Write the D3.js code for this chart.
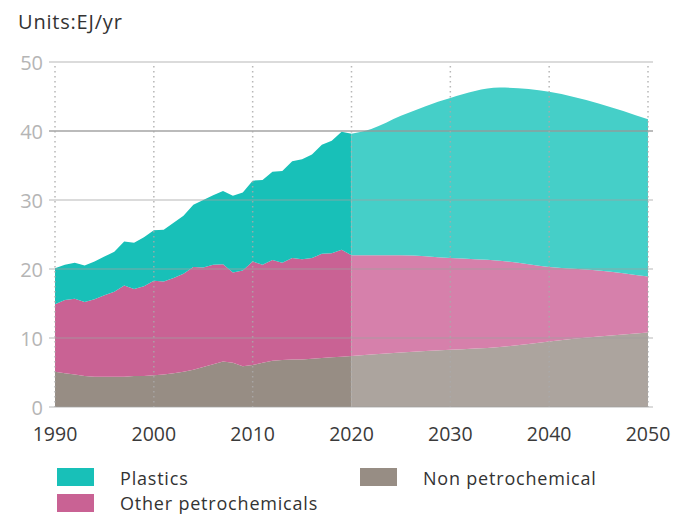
<!DOCTYPE html>
<html><head><meta charset="utf-8">
<script src="https://cdn.jsdelivr.net/npm/d3@7"></script>
<style>
body{margin:0;background:#fff;}
text{font-family:"Open Sans","Noto Sans",sans-serif;}
</style></head>
<body><svg id="c" width="675" height="514"></svg>
<script>
// Historical data (EJ/yr)
const histYears = d3.range(1990, 2021);
const histPlastics = [5.2,5.1,5.2,5.3,5.5,5.6,5.8,6.4,6.7,7.1,7.3,7.5,8.0,8.4,9.0,9.8,10.1,10.6,11.1,11.3,11.7,12.3,12.8,13.3,14.0,14.5,15.0,15.8,16.3,17.1,17.6];
const histOther    = [9.8,10.6,11.0,10.7,11.2,11.8,12.3,13.2,12.6,13.0,13.7,13.5,13.8,14.2,14.9,14.4,14.4,14.1,13.1,13.9,15.0,14.2,14.6,14.1,14.7,14.5,14.6,15.1,15.1,15.5,14.6];
const histNonPetro = [5.1,4.9,4.7,4.5,4.4,4.4,4.4,4.4,4.5,4.5,4.6,4.7,4.9,5.1,5.4,5.8,6.2,6.6,6.4,5.9,6.1,6.4,6.7,6.8,6.9,6.9,7.0,7.1,7.2,7.3,7.4];
// Projections
const projYears    = [2020,2022,2025,2030,2035,2040,2045,2050];
const projPlastics = [17.6,18.3,20.2,23.2,25.1,25.4,24.2,22.8];
const projOther    = [14.6,14.4,14.1,13.3,12.5,10.8,9.6,8.1];
const projNonPetro = [7.4,7.6,7.9,8.3,8.7,9.5,10.2,10.8];

const seriesKeys = ["nonpetro","other","plastics"];
const legendLabels = {plastics:"Plastics", other:"Other petrochemicals", nonpetro:"Non petrochemical"};
const histColors = {plastics:"#18c0b8", other:"#c96294", nonpetro:"#978d84"};
const projColors = {plastics:"#45cfc8", other:"#d680ab", nonpetro:"#aca49e"};
const yTicks = [0,10,20,30,40,50];
const xTicks = [1990,2000,2010,2020,2030,2040,2050];

const svg = d3.select("#c");
const x = d3.scaleLinear().domain([1990,2050]).range([55,648]);
const y = d3.scaleLinear().domain([0,50]).range([407,62]);

const histRows = histYears.map((yr,i)=>({year:yr, plastics:histPlastics[i], other:histOther[i], nonpetro:histNonPetro[i]}));
const projRows = projYears.map((yr,i)=>({year:yr, plastics:projPlastics[i], other:projOther[i], nonpetro:projNonPetro[i]}));
const stack = d3.stack().keys(seriesKeys);

function drawAreas(rows, colors, curve){
  const area = d3.area().x(d=>x(d.data.year)).y0(d=>y(d[0])).y1(d=>y(d[1])).curve(curve);
  svg.append("g").selectAll("path").data(stack(rows)).join("path")
    .attr("d", area).attr("fill", d=>colors[d.key]);
}
drawAreas(projRows, projColors, d3.curveMonotoneX);
drawAreas(histRows, histColors, d3.curveLinear);

// horizontal gridlines
const grid = svg.append("g");
yTicks.forEach(t=>{
  grid.append("line").attr("x1",49).attr("x2",653).attr("y1",y(t)).attr("y2",y(t))
    .attr("stroke", t===40 ? "rgba(150,150,150,0.65)" : "rgba(160,160,160,0.5)")
    .attr("stroke-width", t===40 ? 2 : 1.5);
});
// vertical dotted lines
xTicks.forEach(t=>{
  grid.append("line").attr("x1",x(t)).attr("x2",x(t)).attr("y1",66).attr("y2",407)
    .attr("stroke","rgba(170,170,170,0.85)").attr("stroke-width",1.5).attr("stroke-dasharray","1.5,3.5");
});

// y labels
svg.append("g").selectAll("text").data(yTicks).join("text")
  .attr("x",43).attr("y",d=>y(d)+7.5).attr("text-anchor","end")
  .attr("font-size",20).attr("fill","#b5b5b5").text(d=>d);
// x labels
svg.append("g").selectAll("text").data(xTicks).join("text")
  .attr("x",d=>x(d)).attr("y",441).attr("text-anchor","middle")
  .attr("font-size",19.5).attr("fill","#3a3a3a").text(d=>d);

svg.append("text").attr("x",18).attr("y",29).attr("font-size",20).attr("letter-spacing",0.8).attr("fill","#333").text("Units:EJ/yr");

// legend
const legendItems = [
  {key:"plastics", x:57, y:468, ty:484.5},
  {key:"other", x:57, y:494, ty:509.5},
  {key:"nonpetro", x:360, y:468, ty:484.5}
];
const lg = svg.append("g");
legendItems.forEach(it=>{
  lg.append("rect").attr("x",it.x).attr("y",it.y).attr("width",37).attr("height",18).attr("fill",histColors[it.key]);
  lg.append("text").attr("x",it.x+63).attr("y",it.ty).attr("font-size",18).attr("letter-spacing",0.8).attr("fill","#333").text(legendLabels[it.key]);
});
</script></body></html>
